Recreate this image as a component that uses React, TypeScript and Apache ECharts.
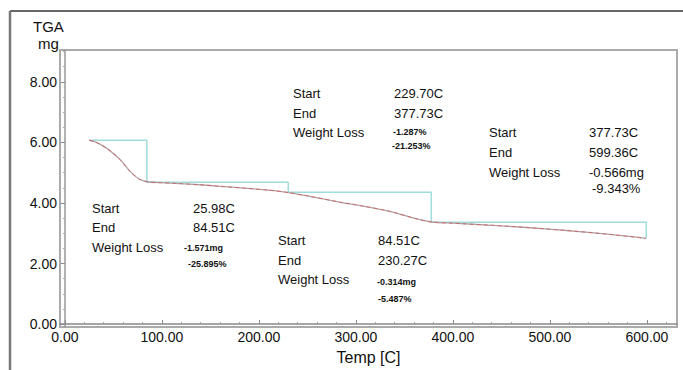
import React, { useEffect, useRef } from "react";
import * as echarts from "echarts";

// ---- data ----
const curveTemp = [25, 30, 36, 45, 57, 67, 77, 85, 98, 118, 139, 160, 185, 210, 229, 252, 283, 310, 335, 363, 378, 400, 441, 480, 517, 562, 599];
const curveMass = [6.07, 6.03, 5.94, 5.76, 5.43, 5.05, 4.78, 4.70, 4.67, 4.64, 4.60, 4.55, 4.49, 4.42, 4.35, 4.22, 4.03, 3.88, 3.72, 3.47, 3.37, 3.33, 3.26, 3.18, 3.09, 2.96, 2.83];
const stepTemps = [25.98, 84.51, 230.27, 377.73, 599.36];
const stepLevels = [6.07, 4.68, 4.35, 3.36, 2.83];
const xTickValues = [0, 100, 200, 300, 400, 500, 600];
const yTickValues = [0, 2, 4, 6, 8];
const rowLabels = ["Start", "End", "Weight Loss"];
const annStart = ["25.98C", "84.51C", "229.70C", "377.73C"];
const annEnd = ["84.51C", "230.27C", "377.73C", "599.36C"];
const annLossMg = ["-1.571mg", "-0.314mg", "-1.287%", "-0.566mg"];
const annLossPct = ["-25.895%", "-5.487%", "-21.253%", "-9.343%"];

// ---- layout (pixel positions of annotation blocks) ----
const annLayout = [
  { lx: 92, vx: 193, rows: [209, 228, 248], mx: 184, my: 248, px: 188, py: 264, small: true },
  { lx: 278, vx: 378, rows: [241, 261, 280], mx: 377, my: 282, px: 378, py: 299, small: true },
  { lx: 293, vx: 394, rows: [94, 114, 133], mx: 393, my: 132, px: 392, py: 146, small: true },
  { lx: 489, vx: 589, rows: [133, 153, 173], mx: 589, my: 173, px: 592, py: 189, small: false },
];

const FONT = "Liberation Sans, Arial, sans-serif";

export default function App() {
  const ref = useRef<HTMLDivElement>(null);
  useEffect(() => {
    if (!ref.current) return;
    const chart = echarts.init(ref.current, null, { renderer: "svg" });

    const curveData = curveTemp.map((t, i) => [t, curveMass[i]]);
    const stairData: number[][] = [];
    for (let i = 0; i < stepTemps.length - 1; i++) {
      stairData.push([stepTemps[i], stepLevels[i]]);
      stairData.push([stepTemps[i + 1], stepLevels[i]]);
    }
    stairData.push([stepTemps[stepTemps.length - 1], stepLevels[stepLevels.length - 1]]);

    const xMinor: number[] = [];
    for (let v = 20; v <= 620; v += 20) if (v % 100 !== 0) xMinor.push(v);
    const yMinor: number[] = [];
    for (let v = 0.5; v <= 9; v += 0.5) if (v % 2 !== 0) yMinor.push(v);

    const texts: any[] = [];
    annLayout.forEach((a, i) => {
      rowLabels.forEach((lab, r) => {
        texts.push({
          type: "text", left: a.lx, top: a.rows[r] - 7,
          style: { text: lab, fill: "#111", font: `13px ${FONT}` },
        });
      });
      texts.push({ type: "text", left: a.vx, top: a.rows[0] - 7, style: { text: annStart[i], fill: "#111", font: `13px ${FONT}` } });
      texts.push({ type: "text", left: a.vx, top: a.rows[1] - 7, style: { text: annEnd[i], fill: "#111", font: `13px ${FONT}` } });
      const f = a.small ? `bold 9px ${FONT}` : `13px ${FONT}`;
      const h = a.small ? 5 : 7;
      texts.push({ type: "text", left: a.mx, top: a.my - h, style: { text: annLossMg[i], fill: "#111", font: f } });
      texts.push({ type: "text", left: a.px, top: a.py - h, style: { text: annLossPct[i], fill: "#111", font: f } });
    });

    chart.setOption({
      animation: false,
      backgroundColor: "#fff",
      grid: { left: 60, right: 6, top: 50, bottom: 42, show: true, borderColor: "#aaa", borderWidth: 2 },
      xAxis: [
        {
          type: "value", min: -5, max: 631,
          axisLine: { show: true, lineStyle: { color: "#888", width: 1.5 } },
          axisTick: { show: true, inside: true, length: 4, customValues: xTickValues, lineStyle: { color: "#888" } },
          axisLabel: { customValues: xTickValues, formatter: (v: number) => v.toFixed(2), color: "#111", fontSize: 14, fontFamily: FONT, margin: 3 },
          splitLine: { show: false },
          name: "Temp [C]", nameLocation: "middle", nameGap: 20,
          nameTextStyle: { color: "#111", fontSize: 16, fontFamily: FONT },
        },
        {
          type: "value", min: -5, max: 631, position: "bottom",
          axisLine: { show: false },
          axisTick: { show: true, inside: true, length: 2, customValues: xMinor, lineStyle: { color: "#999" } },
          axisLabel: { show: false },
          splitLine: { show: false },
        },
      ],
      yAxis: [
        {
          type: "value", min: -0.1, max: 9.05,
          axisLine: { show: true, lineStyle: { color: "#999", width: 1.5 } },
          axisTick: { show: true, length: 4, customValues: yTickValues, lineStyle: { color: "#888" } },
          axisLabel: { customValues: yTickValues, formatter: (v: number) => v.toFixed(2), color: "#111", fontSize: 14, fontFamily: FONT, margin: 3 },
          splitLine: { show: false },
        },
        {
          type: "value", min: -0.1, max: 9.05, position: "left",
          axisLine: { show: false },
          axisTick: { show: true, length: 2, customValues: yMinor, lineStyle: { color: "#aaa" } },
          axisLabel: { show: false },
          splitLine: { show: false },
        },
      ],
      graphic: [
        { type: "line", shape: { x1: 10, y1: 11, x2: 683, y2: 11 }, style: { stroke: "#666", lineWidth: 2 } },
        { type: "line", shape: { x1: 10, y1: 11, x2: 10, y2: 370 }, style: { stroke: "#777", lineWidth: 2.5 } },
        { type: "text", left: 33, top: 19, style: { text: "TGA", fill: "#111", font: `15px ${FONT}` } },
        { type: "text", left: 38, top: 36, style: { text: "mg", fill: "#111", font: `15px ${FONT}` } },
        ...texts,
      ],
      series: [
        {
          type: "line", data: stairData, showSymbol: false, silent: true,
          lineStyle: { color: "#9fdcdc", width: 1.5 },
        },
        {
          type: "line", data: curveData, smooth: 0.3, showSymbol: false, silent: true,
          lineStyle: { color: "#b4a6a6", width: 1.3 },
        },
        {
          type: "line", data: curveData, smooth: 0.3, showSymbol: false, silent: true,
          lineStyle: { color: "#d05858", width: 1, type: [4, 3], opacity: 0.75 },
        },
      ],
    });
    return () => chart.dispose();
  }, []);
  return <div ref={ref} style={{ width: 683, height: 370, position: "absolute", left: 0, top: 0 }} />;
}
